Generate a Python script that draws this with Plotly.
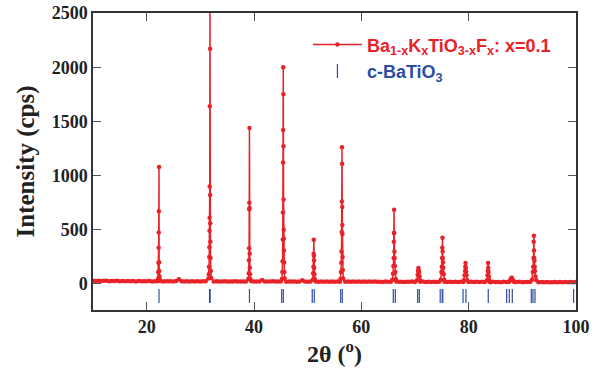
import numpy as np
import plotly.graph_objects as go

# ---------------- data ----------------
# background counts every 0.5 deg from 10 to 100 (2theta)
bg_start, bg_step = 10.0, 0.5
bg_counts = [
    30, 28, 31, 27, 29, 30, 26, 28, 27, 29, 26, 28, 25, 27, 26, 28, 24, 27, 25, 26,   # 10-19.5
    25, 27, 24, 26, 25, 27, 24, 26, 25, 26, 24, 27, 44, 26, 24, 25, 23, 26, 24, 25,   # 20-29.5
    24, 26, 25, 27, 25, 23, 25, 24, 22, 25, 23, 24, 22, 25, 23, 24, 22, 24, 23, 25,   # 30-39.5
    22, 24, 23, 36, 22, 24, 23, 25, 22, 24, 22, 23, 21, 24, 22, 23, 21, 24, 34, 22,   # 40-49.5
    21, 23, 22, 24, 21, 23, 21, 22, 20, 23, 21, 22, 20, 23, 21, 22, 20, 22, 21, 23,   # 50-59.5
    20, 22, 21, 23, 20, 22, 20, 21, 19, 22, 20, 21, 19, 22, 20, 21, 19, 21, 20, 22,   # 60-69.5
    19, 21, 20, 22, 19, 21, 19, 20, 18, 21, 19, 20, 18, 21, 19, 20, 18, 20, 19, 21,   # 70-79.5
    18, 20, 19, 21, 18, 20, 18, 19, 17, 20, 18, 19, 17, 20, 18, 19, 17, 19, 18, 20,   # 80-89.5
    17, 19, 18, 20, 17, 19, 17, 18, 16, 19, 17,                                       # 90-95
    16, 18, 17, 19, 16, 18, 17, 18, 16, 18,                                           # 95.5-100
]

# peak profiles: 2theta and counts
peak1_tt = [22.10, 22.16, 22.20, 22.23, 22.25, 22.27, 22.30, 22.32, 22.34, 22.38, 22.46]
peak1_ct = [45, 110, 195, 335, 475, 670, 1080, 200, 120, 70, 40]

peak2_tt = [31.50, 31.58, 31.62, 31.66, 31.69, 31.71, 31.73, 31.75, 31.77, 31.79,
            31.81, 31.83, 31.85, 31.87, 31.90, 31.95, 32.02]
peak2_ct = [50, 90, 160, 250, 340, 490, 610, 900, 1640, 2620,
            2170, 820, 560, 390, 240, 120, 55]

peak3_tt = [38.95, 39.02, 39.06, 39.09, 39.11, 39.13, 39.15, 39.17, 39.19, 39.22, 39.26, 39.32]
peak3_ct = [45, 100, 220, 330, 690, 750, 1440, 700, 280, 150, 90, 45]

peak4_tt = [45.20, 45.28, 45.33, 45.36, 45.39, 45.41, 45.43, 45.45, 45.47, 45.49,
            45.51, 45.53, 45.55, 45.58, 45.61, 45.65, 45.72]
peak4_ct = [45, 110, 210, 410, 660, 1120, 1420, 2000, 1750, 1270,
            780, 500, 420, 310, 200, 110, 50]

peak5_tt = [50.95, 51.02, 51.07, 51.11, 51.14, 51.16, 51.19, 51.22, 51.26, 51.32]
peak5_ct = [40, 100, 160, 280, 407, 260, 220, 150, 90, 45]

peak6_tt = [56.10, 56.20, 56.27, 56.31, 56.34, 56.37, 56.40, 56.42, 56.44, 56.46,
            56.48, 56.51, 56.55, 56.62]
peak6_ct = [45, 110, 195, 300, 480, 760, 1262, 1110, 710, 545,
            460, 250, 130, 50]

peak7_tt = [65.80, 65.90, 65.97, 66.02, 66.05, 66.08, 66.10, 66.13, 66.16, 66.20,
            66.25, 66.32, 66.42]
peak7_ct = [40, 95, 165, 240, 390, 470, 685, 470, 300, 240, 165, 110, 45]

peak8_tt = [70.35, 70.50, 70.58, 70.63, 70.68, 70.75, 70.85, 70.95]
peak8_ct = [35, 85, 120, 148, 125, 105, 70, 35]

peak9_tt = [74.80, 74.92, 75.00, 75.05, 75.09, 75.12, 75.15, 75.18, 75.22, 75.27, 75.35, 75.45]
peak9_ct = [40, 110, 160, 240, 335, 426, 300, 240, 200, 150, 90, 40]

peak10_tt = [79.10, 79.25, 79.33, 79.38, 79.42, 79.46, 79.52, 79.60, 79.75]
peak10_ct = [35, 80, 120, 160, 194, 150, 115, 80, 35]

peak11_tt = [83.40, 83.52, 83.58, 83.62, 83.66, 83.70, 83.76, 83.85]
peak11_ct = [35, 80, 120, 194, 150, 110, 70, 35]

peak12_tt = [87.60, 87.80, 87.95, 88.05, 88.20, 88.40]
peak12_ct = [28, 42, 56, 58, 40, 26]

peak13_tt = [91.80, 91.95, 92.03, 92.08, 92.12, 92.15, 92.18, 92.21, 92.25, 92.30,
             92.36, 92.45, 92.60]
peak13_ct = [40, 110, 160, 240, 390, 444, 310, 240, 215, 160, 120, 70, 35]

# c-BaTiO3 Bragg reflection positions (2theta)
bragg_tt = [22.30, 31.72, 31.82, 39.15, 45.16, 45.46, 50.85, 51.23, 56.15, 56.45,
            65.95, 66.33, 70.50, 70.80, 74.70, 75.08, 75.18, 78.95, 79.50, 83.65,
            87.08, 87.57, 88.13, 91.67, 91.98, 92.36, 99.55]
bragg_level = -110

series_name = "Ba<sub>1-x</sub>K<sub>x</sub>TiO<sub>3-x</sub>F<sub>x</sub>: x=0.1"
bragg_name = "c-BaTiO<sub>3</sub>"

# ---------------- assemble profile ----------------
peaks = [(peak1_tt, peak1_ct), (peak2_tt, peak2_ct), (peak3_tt, peak3_ct),
         (peak4_tt, peak4_ct), (peak5_tt, peak5_ct), (peak6_tt, peak6_ct),
         (peak7_tt, peak7_ct), (peak8_tt, peak8_ct), (peak9_tt, peak9_ct),
         (peak10_tt, peak10_ct), (peak11_tt, peak11_ct), (peak12_tt, peak12_ct),
         (peak13_tt, peak13_ct)]

bg_tt = [bg_start + bg_step * i for i in range(len(bg_counts))]
pts = []
for t, c in zip(bg_tt, bg_counts):
    if not any(min(pt) <= t <= max(pt) for pt, _ in peaks):
        pts.append((t, c))
for pt, pc in peaks:
    pts.extend(zip(pt, pc))
pts.sort()
xx = [p[0] for p in pts]
yy = [p[1] for p in pts]

RED = "rgb(232,34,40)"
BLUE = "rgb(44,78,160)"

fig = go.Figure()
fig.add_trace(go.Scatter(
    x=xx, y=yy, mode="lines+markers", name=series_name,
    line=dict(color=RED, width=1.5),
    marker=dict(color=RED, size=4.5, symbol="circle"),
))
fig.add_trace(go.Scatter(
    x=bragg_tt, y=[bragg_level] * len(bragg_tt), mode="markers",
    name='<span style="color:%s">%s</span>' % (BLUE, bragg_name),
    marker=dict(symbol="line-ns", size=10, line=dict(color=BLUE, width=1.2), color=BLUE),
))

serif = "Liberation Serif"
axis_common = dict(
    showline=True, linecolor="#333", linewidth=1.5, mirror="ticks",
    ticks="inside", ticklen=8, tickwidth=1.3, tickcolor="#555",
    showgrid=False, zeroline=False, automargin=False,
    tickfont=dict(family=serif, size=18, color="#222", weight="bold"),
)

fig.update_layout(
    width=595, height=370,
    margin=dict(l=93, r=19, t=13, b=60),
    paper_bgcolor="white", plot_bgcolor="white",
    showlegend=True,
    legend=dict(
        x=0.445, y=0.955, xanchor="left", yanchor="top",
        bgcolor="rgba(0,0,0,0)", borderwidth=0, itemwidth=49,
        font=dict(family="Liberation Sans", size=18, color=RED, weight="bold"),
        tracegroupgap=2,
    ),
    xaxis=dict(range=[10, 100], tickvals=[20, 40, 60, 80, 100],
               title=dict(text="2θ (<sup>o</sup>)", standoff=8,
                          font=dict(family=serif, size=24, color="#222", weight="bold")),
               **axis_common),
    yaxis=dict(range=[-240, 2500], tickvals=[0, 500, 1000, 1500, 2000, 2500],
               title=dict(text="Intensity (cps)", standoff=10,
                          font=dict(family=serif, size=25, color="#222", weight="bold")),
               **axis_common),
)

fig.write_html("out.html", config={"displayModeBar": False},
               post_script="document.body.style.margin='0';")
